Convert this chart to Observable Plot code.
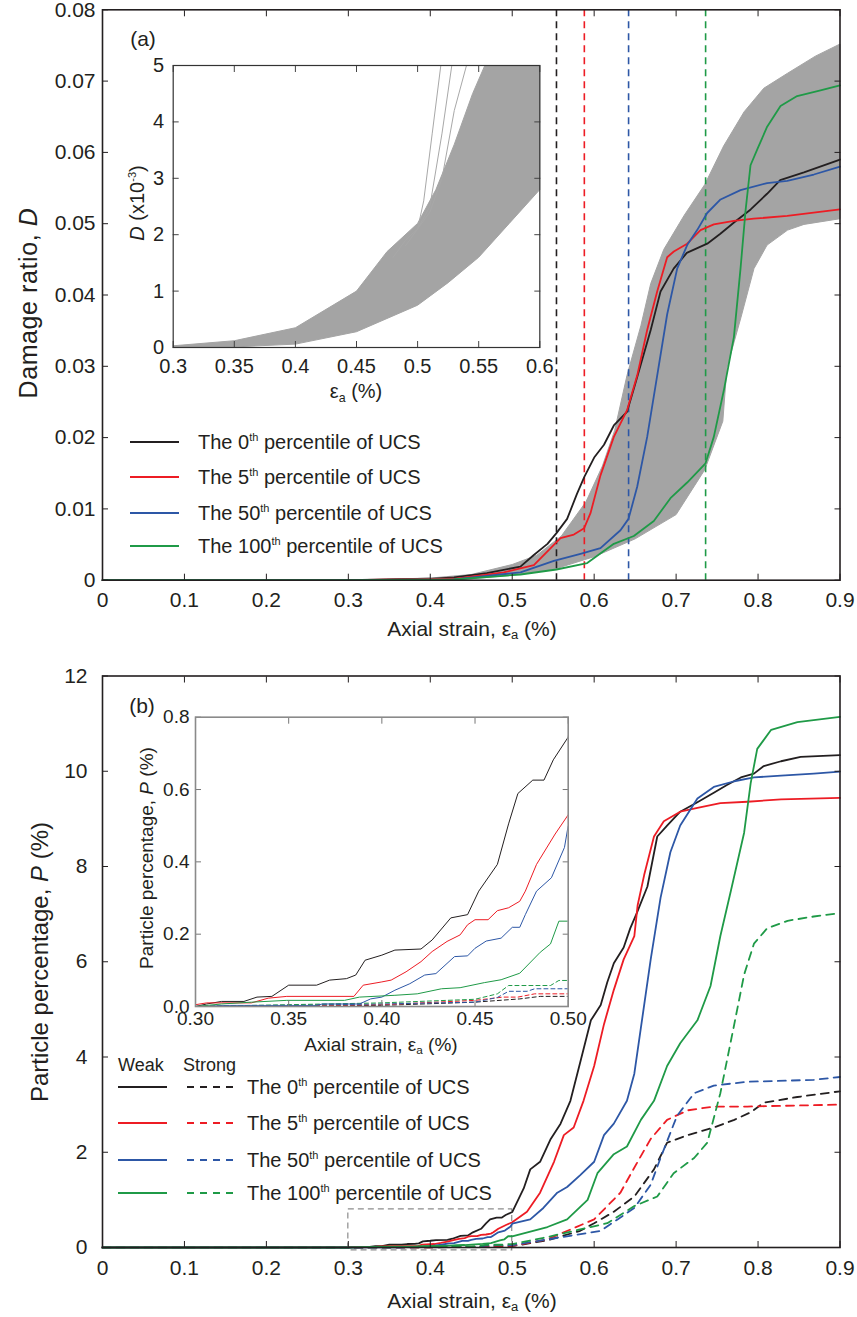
<!DOCTYPE html>
<html><head><meta charset="utf-8">
<script src="https://cdn.jsdelivr.net/npm/d3@7"></script>
<script src="https://cdn.jsdelivr.net/npm/@observablehq/plot@0.6"></script>
<style>
body{margin:0;background:#fff}
#wrap{position:relative;width:857px;height:1317px;font-family:"Liberation Sans",Arial,sans-serif;color:#231f20;overflow:hidden}
.abs{position:absolute;white-space:nowrap;line-height:1}
.c{transform:translate(-50%,-50%)}
.r{transform:translate(-50%,-50%) rotate(-90deg)}
.lv{transform:translateY(-50%)}
sub{font-size:0.62em;vertical-align:-0.3em;line-height:0}
sup{font-size:0.55em;vertical-align:0.7em;line-height:0}
</style></head>
<body><div id="wrap"></div>
<script>
// ---------------- Panel (a): damage ratio ----------------
const pctLabels = ["0", "5", "50", "100"];
const aStrainTicks = [0, 0.1, 0.2, 0.3, 0.4, 0.5, 0.6, 0.7, 0.8, 0.9];
const aDamageTicks = [0, 0.01, 0.02, 0.03, 0.04, 0.05, 0.06, 0.07, 0.08];

const aStrainP0 = [0, 0.3, 0.4, 0.429, 0.469, 0.51, 0.526, 0.543, 0.554, 0.567, 0.579, 0.588, 0.6, 0.612, 0.624, 0.64, 0.649, 0.657, 0.669, 0.681, 0.697, 0.713, 0.738, 0.754, 0.771, 0.791, 0.811, 0.827, 0.856, 0.9];
const aDamageP0 = [0, 0, 0.0002, 0.0004, 0.001, 0.0019, 0.0035, 0.0051, 0.0066, 0.0086, 0.0121, 0.0145, 0.0172, 0.019, 0.0217, 0.0236, 0.0271, 0.0303, 0.0351, 0.0405, 0.0437, 0.0459, 0.0472, 0.0486, 0.0502, 0.052, 0.0542, 0.0561, 0.0572, 0.059];
const aStrainP5 = [0, 0.3, 0.4288, 0.4898, 0.5264, 0.5427, 0.5589, 0.5752, 0.5878, 0.5955, 0.6077, 0.624, 0.6403, 0.6525, 0.6647, 0.6769, 0.6891, 0.6972, 0.7135, 0.7298, 0.746, 0.7705, 0.7948, 0.8356, 0.9];
const aDamageP5 = [0, 0, 0.0002, 0.0011, 0.0021, 0.004, 0.0059, 0.0064, 0.0073, 0.0094, 0.0147, 0.0201, 0.0239, 0.0287, 0.0351, 0.0405, 0.0453, 0.0461, 0.0472, 0.0491, 0.0499, 0.0504, 0.0507, 0.0511, 0.052];
const aStrainP50 = [0, 0.3, 0.4288, 0.5101, 0.5508, 0.5833, 0.6077, 0.6321, 0.6419, 0.6525, 0.6647, 0.6769, 0.6891, 0.7013, 0.7135, 0.7257, 0.7379, 0.7542, 0.7786, 0.8111, 0.8356, 0.8681, 0.9];
const aDamageP50 = [0, 0, 0.0001, 0.0011, 0.0027, 0.0037, 0.0045, 0.007, 0.0086, 0.0131, 0.0201, 0.0287, 0.0373, 0.0437, 0.047, 0.0491, 0.0515, 0.0534, 0.0547, 0.0557, 0.056, 0.0569, 0.058];
const aStrainP100 = [0, 0.3, 0.4288, 0.5101, 0.554, 0.5915, 0.624, 0.6484, 0.6728, 0.6931, 0.7135, 0.7359, 0.746, 0.7582, 0.7705, 0.7786, 0.7847, 0.7908, 0.7989, 0.8111, 0.8274, 0.8477, 0.8762, 0.9];
const aDamageP100 = [0, 0, 0.0001, 0.0008, 0.0015, 0.0024, 0.0051, 0.0062, 0.0083, 0.0115, 0.0137, 0.0164, 0.0201, 0.0266, 0.0341, 0.0437, 0.0518, 0.0582, 0.0604, 0.0636, 0.0665, 0.0679, 0.0687, 0.0694];

// envelope of the grey Monte-Carlo curves
const aBandUpperStrain = [0.3, 0.4, 0.45, 0.5, 0.53, 0.56, 0.59, 0.61, 0.625, 0.64, 0.657, 0.669, 0.685, 0.71, 0.735, 0.758, 0.783, 0.807, 0.836, 0.87, 0.9];
const aBandUpperDamage = [0, 0.0003, 0.0008, 0.0022, 0.0035, 0.0062, 0.011, 0.016, 0.021, 0.0287, 0.0357, 0.0416, 0.0464, 0.0512, 0.0555, 0.0609, 0.0657, 0.069, 0.0711, 0.0735, 0.0752];
const aBandLowerStrain = [0.3, 0.45, 0.5, 0.55, 0.6, 0.65, 0.7, 0.735, 0.757, 0.762, 0.779, 0.795, 0.811, 0.836, 0.856, 0.9];
const aBandLowerDamage = [0, 0.0002, 0.0007, 0.0015, 0.0033, 0.0058, 0.0092, 0.0155, 0.0223, 0.0298, 0.0368, 0.0437, 0.047, 0.0491, 0.0499, 0.0507];

const aPeakStrain = [0.554, 0.588, 0.642, 0.736];

// inset (a): D (x10^-3)
const insetAStrainTicks = [0.3, 0.35, 0.4, 0.45, 0.5, 0.55, 0.6];
const insetADamageTicks = [0, 1, 2, 3, 4, 5];
const insetAUpperStrain = [0.3, 0.35, 0.4, 0.45, 0.475, 0.5, 0.515, 0.53, 0.545, 0.555, 0.6];
const insetAUpperDamage = [0.03, 0.12, 0.35, 1.0, 1.7, 2.2, 2.8, 3.6, 4.5, 5, 5];
const insetALowerStrain = [0.3, 0.35, 0.4, 0.45, 0.5, 0.525, 0.55, 0.575, 0.6];
const insetALowerDamage = [0, 0.01, 0.06, 0.28, 0.75, 1.15, 1.6, 2.2, 2.8];
const insetAOutlier1Strain = [0.48, 0.49, 0.5, 0.505, 0.512, 0.519];
const insetAOutlier1Damage = [1.6, 1.9, 2.1, 2.6, 3.8, 5];
const insetAOutlier2Strain = [0.49, 0.5, 0.51, 0.52, 0.528];
const insetAOutlier2Damage = [1.8, 2.1, 2.5, 3.8, 5];
const insetAOutlier3Strain = [0.5, 0.51, 0.52, 0.53, 0.54];
const insetAOutlier3Damage = [2.1, 2.4, 3.0, 4.2, 5];

// ---------------- Panel (b): particle percentage ----------------
const bParticleTicks = [0, 2, 4, 6, 8, 10, 12];
const bWeakStrainP0 = [0, 0.2, 0.3, 0.306, 0.314, 0.326, 0.333, 0.341, 0.35, 0.365, 0.372, 0.381, 0.386, 0.391, 0.4, 0.407, 0.421, 0.427, 0.437, 0.446, 0.452, 0.462, 0.468, 0.473, 0.481, 0.487, 0.492, 0.5, 0.514, 0.522, 0.534, 0.547, 0.559, 0.571, 0.583, 0.596, 0.608, 0.616, 0.624, 0.636, 0.644, 0.652, 0.665, 0.677, 0.689, 0.705, 0.726, 0.746, 0.762, 0.779, 0.795, 0.807, 0.828, 0.852, 0.9];
const bWeakP0 = [0, 0, 0, 0.007, 0.014, 0.014, 0.026, 0.028, 0.059, 0.059, 0.073, 0.077, 0.087, 0.128, 0.142, 0.156, 0.159, 0.184, 0.245, 0.254, 0.319, 0.393, 0.505, 0.589, 0.626, 0.626, 0.682, 0.745, 1.24, 1.64, 1.8, 2.28, 2.6, 3.08, 3.89, 4.77, 5.09, 5.57, 5.97, 6.3, 6.7, 7.02, 7.58, 8.63, 8.86, 9.15, 9.35, 9.55, 9.71, 9.87, 9.95, 10.11, 10.21, 10.3, 10.34];
const bWeakStrainP5 = [0, 0.2, 0.3, 0.306, 0.33, 0.339, 0.349, 0.385, 0.39, 0.4, 0.405, 0.413, 0.421, 0.427, 0.435, 0.442, 0.446, 0.45, 0.457, 0.462, 0.468, 0.474, 0.477, 0.483, 0.493, 0.5, 0.518, 0.534, 0.551, 0.563, 0.575, 0.587, 0.6, 0.612, 0.624, 0.636, 0.649, 0.653, 0.661, 0.673, 0.685, 0.705, 0.726, 0.754, 0.787, 0.828, 0.9];
const bWeakP5 = [0, 0, 0.005, 0.01, 0.01, 0.023, 0.028, 0.028, 0.059, 0.068, 0.073, 0.096, 0.124, 0.152, 0.18, 0.198, 0.226, 0.24, 0.24, 0.265, 0.273, 0.291, 0.319, 0.393, 0.477, 0.53, 0.75, 1.15, 1.8, 2.36, 2.52, 3.08, 3.81, 4.69, 5.41, 6.05, 6.54, 7.18, 7.82, 8.63, 8.95, 9.15, 9.23, 9.33, 9.36, 9.41, 9.44];
const bWeakStrainP50 = [0, 0.2, 0.3, 0.318, 0.365, 0.368, 0.388, 0.394, 0.4, 0.407, 0.415, 0.423, 0.429, 0.439, 0.446, 0.45, 0.456, 0.464, 0.47, 0.474, 0.477, 0.483, 0.491, 0.498, 0.5, 0.522, 0.538, 0.555, 0.567, 0.583, 0.6, 0.612, 0.624, 0.64, 0.649, 0.657, 0.669, 0.681, 0.693, 0.705, 0.726, 0.746, 0.771, 0.795, 0.828, 0.868, 0.9];
const bWeakP50 = [0, 0, 0, 0.003, 0.003, 0.007, 0.007, 0.021, 0.026, 0.045, 0.063, 0.087, 0.091, 0.138, 0.14, 0.161, 0.181, 0.189, 0.219, 0.219, 0.254, 0.319, 0.356, 0.44, 0.5, 0.59, 0.83, 1.15, 1.27, 1.52, 1.8, 2.36, 2.6, 3.08, 3.65, 4.61, 6.05, 7.34, 8.3, 8.86, 9.43, 9.67, 9.79, 9.87, 9.91, 9.95, 9.99];
const bWeakStrainP100 = [0, 0.2, 0.3, 0.314, 0.33, 0.349, 0.38, 0.388, 0.407, 0.419, 0.432, 0.442, 0.455, 0.464, 0.474, 0.485, 0.4905, 0.495, 0.5, 0.543, 0.567, 0.592, 0.604, 0.624, 0.64, 0.657, 0.673, 0.689, 0.705, 0.726, 0.742, 0.754, 0.767, 0.783, 0.791, 0.799, 0.816, 0.848, 0.9];
const bWeakP100 = [0, 0, 0, 0.007, 0.012, 0.017, 0.017, 0.026, 0.031, 0.035, 0.049, 0.052, 0.066, 0.074, 0.092, 0.15, 0.173, 0.236, 0.236, 0.43, 0.59, 1.0, 1.56, 1.96, 2.12, 2.68, 3.08, 3.81, 4.29, 4.77, 5.49, 6.54, 7.5, 8.71, 9.75, 10.47, 10.87, 11.03, 11.14];

const bStrongStrainP0 = [0, 0.3, 0.4, 0.45, 0.474, 0.485, 0.5, 0.543, 0.583, 0.6, 0.624, 0.649, 0.673, 0.689, 0.714, 0.746, 0.771, 0.791, 0.807, 0.848, 0.9];
const bStrongP0 = [0, 0, 0.003, 0.012, 0.021, 0.028, 0.028, 0.15, 0.35, 0.51, 0.75, 1.07, 1.64, 2.2, 2.36, 2.52, 2.68, 2.84, 3.04, 3.16, 3.28];
const bStrongStrainP5 = [0, 0.3, 0.4, 0.45, 0.465, 0.473, 0.482, 0.5, 0.543, 0.6, 0.632, 0.653, 0.669, 0.689, 0.714, 0.746, 0.787, 0.9];
const bStrongP5 = [0, 0, 0.005, 0.017, 0.026, 0.026, 0.035, 0.035, 0.17, 0.59, 1.15, 1.8, 2.28, 2.68, 2.88, 2.96, 2.96, 3.0];
const bStrongStrainP50 = [0, 0.3, 0.4, 0.45, 0.462, 0.468, 0.478, 0.482, 0.5, 0.543, 0.608, 0.649, 0.669, 0.681, 0.701, 0.722, 0.746, 0.787, 0.868, 0.9];
const bStrongP50 = [0, 0, 0.007, 0.012, 0.025, 0.042, 0.042, 0.049, 0.049, 0.17, 0.35, 0.83, 1.32, 1.88, 2.76, 3.24, 3.4, 3.48, 3.52, 3.58];
const bStrongStrainP100 = [0, 0.3, 0.4, 0.45, 0.462, 0.468, 0.4905, 0.495, 0.5, 0.543, 0.616, 0.649, 0.677, 0.697, 0.722, 0.738, 0.754, 0.771, 0.783, 0.795, 0.811, 0.836, 0.868, 0.9];
const bStrongP100 = [0, 0, 0.01, 0.02, 0.035, 0.058, 0.058, 0.072, 0.072, 0.22, 0.51, 0.87, 1.07, 1.56, 1.88, 2.2, 3.24, 4.69, 5.73, 6.38, 6.7, 6.86, 6.95, 7.02];

const insetBStrainTicks = [0.3, 0.35, 0.4, 0.45, 0.5];
const insetBParticleTicks = [0, 0.2, 0.4, 0.6, 0.8];
const bZoomStrain = [0.3, 0.5];
const bZoomParticle = [-0.06, 0.8];

// ---------------- helpers ----------------
const colors = ["#231f20", "#ed1c24", "#2d57a6", "#1f9a47"];
const FONT = "Liberation Sans, Arial, sans-serif";
const pts = (xs, ys, extra = {}) => xs.map((x, i) => ({x, y: ys[i], ...extra}));
const fmtA = d => d === 0 ? "0" : String(+d.toFixed(2));
const blank = () => "";

const aSeries = [
  pts(aStrainP0, aDamageP0), pts(aStrainP5, aDamageP5),
  pts(aStrainP50, aDamageP50), pts(aStrainP100, aDamageP100)
];
const aBand = pts(aBandUpperStrain, aBandUpperDamage).concat(pts(aBandLowerStrain, aBandLowerDamage).reverse());
const insetABand = pts(insetAUpperStrain, insetAUpperDamage).concat(pts(insetALowerStrain, insetALowerDamage).reverse());
const insetAOutliers = [
  pts(insetAOutlier1Strain, insetAOutlier1Damage),
  pts(insetAOutlier2Strain, insetAOutlier2Damage),
  pts(insetAOutlier3Strain, insetAOutlier3Damage)
];
const bWeak = [
  pts(bWeakStrainP0, bWeakP0), pts(bWeakStrainP5, bWeakP5),
  pts(bWeakStrainP50, bWeakP50), pts(bWeakStrainP100, bWeakP100)
];
const bStrong = [
  pts(bStrongStrainP0, bStrongP0), pts(bStrongStrainP5, bStrongP5),
  pts(bStrongStrainP50, bStrongP50), pts(bStrongStrainP100, bStrongP100)
];

const wrap = document.getElementById("wrap");
function place(node, left, top) {
  const d = document.createElement("div");
  d.className = "abs";
  d.style.left = left + "px"; d.style.top = top + "px";
  d.appendChild(node); wrap.appendChild(d); return d;
}
function frameAxes(xt, yt, o) {
  const ts = -6;
  return [
    Plot.axisX(xt, {anchor: "bottom", tickSize: ts, tickPadding: o.xPad, tickFormat: o.xFmt, label: null, stroke: o.tickColor}),
    Plot.axisX(xt, {anchor: "top", tickSize: ts, tickFormat: blank, label: null, stroke: o.tickColor}),
    Plot.axisY(yt, {anchor: "left", tickSize: ts, tickPadding: o.yPad, tickFormat: o.yFmt, label: null, stroke: o.tickColor}),
    Plot.axisY(yt, {anchor: "right", tickSize: ts, tickFormat: blank, label: null, stroke: o.tickColor})
  ];
}

// ---------------- main (a) ----------------
const plotA = Plot.plot({
  width: 857, height: 660,
  marginLeft: 102, marginRight: 17.5, marginTop: 9.3, marginBottom: 80.3,
  x: {domain: [0, 0.9]}, y: {domain: [0, 0.08]},
  style: {fontSize: "21px", fontFamily: FONT, color: "#231f20", background: "transparent", overflow: "visible"},
  marks: [
    Plot.line(aBand, {x: "x", y: "y", fill: "#a4a4a4", stroke: "#a4a4a4", strokeWidth: 1}),
    Plot.ruleX(aPeakStrain, {x: d => d, stroke: (d, i) => colors[i], strokeWidth: 1.6, strokeDasharray: "7,5"}),
    ...aSeries.map((s, i) => Plot.line(s, {x: "x", y: "y", stroke: colors[i], strokeWidth: 1.8})),
    ...frameAxes(aStrainTicks, aDamageTicks, {xPad: 18, yPad: 13, xFmt: fmtA, yFmt: fmtA, tickColor: "#231f20"}),
    Plot.frame({stroke: "#231f20", strokeWidth: 1.6})
  ]
});
place(plotA, 0, 0);

// ---------------- inset (a) ----------------
const insetA = Plot.plot({
  width: 460, height: 340,
  marginLeft: 72.7, marginRight: 20.7, marginTop: 25, marginBottom: 33,
  x: {domain: [0.3, 0.6]}, y: {domain: [0, 5]},
  style: {fontSize: "20px", fontFamily: FONT, color: "#231f20", background: "transparent", overflow: "visible"},
  marks: [
    Plot.frame({fill: "white", stroke: null}),
    Plot.line(insetABand, {x: "x", y: "y", fill: "#a4a4a4", stroke: "#a4a4a4", strokeWidth: 1}),
    ...insetAOutliers.map(s => Plot.line(s, {x: "x", y: "y", stroke: "#a8a8a8", strokeWidth: 1})),
    ...frameAxes(insetAStrainTicks, insetADamageTicks, {xPad: 17, yPad: 15, xFmt: d => String(+d.toFixed(2)), yFmt: d => String(d), tickColor: "#444"}),
    Plot.frame({stroke: "#333", strokeWidth: 1.2})
  ]
});
place(insetA, 100, 40);

// ---------------- main (b) ----------------
const plotB = Plot.plot({
  width: 857, height: 657,
  marginLeft: 102, marginRight: 17.5, marginTop: 15.5, marginBottom: 70,
  x: {domain: [0, 0.9]}, y: {domain: [0, 12]},
  style: {fontSize: "21px", fontFamily: FONT, color: "#231f20", background: "transparent", overflow: "visible"},
  marks: [
    Plot.rect([{x1: bZoomStrain[0], x2: bZoomStrain[1], y1: bZoomParticle[0], y2: bZoomParticle[1]}],
      {x1: "x1", x2: "x2", y1: "y1", y2: "y2", fill: "none", stroke: "#8c8c8c", strokeWidth: 1.2, strokeDasharray: "6,4"}),
    ...bStrong.map((s, i) => Plot.line(s, {x: "x", y: "y", stroke: colors[i], strokeWidth: 1.8, strokeDasharray: "8,6"})),
    ...bWeak.map((s, i) => Plot.line(s, {x: "x", y: "y", stroke: colors[i], strokeWidth: 1.8})),
    ...frameAxes(aStrainTicks, bParticleTicks, {xPad: 19, yPad: 21, xFmt: fmtA, yFmt: d => String(d), tickColor: "#231f20"}),
    Plot.frame({stroke: "#231f20", strokeWidth: 1.6})
  ]
});
place(plotB, 0, 660);

// ---------------- inset (b) ----------------
const insetB = Plot.plot({
  width: 490, height: 340,
  marginLeft: 95, marginRight: 22.3, marginTop: 26.7, marginBottom: 24,
  x: {domain: [0.3, 0.5]}, y: {domain: [0, 0.8]},
  style: {fontSize: "19px", fontFamily: FONT, color: "#231f20", background: "transparent", overflow: "visible"},
  marks: [
    Plot.frame({fill: "white", stroke: null}),
    ...bStrong.map((s, i) => Plot.line(s, {x: "x", y: "y", stroke: colors[i], strokeWidth: 1, strokeDasharray: "4,3", clip: true})),
    ...bWeak.map((s, i) => Plot.line(s, {x: "x", y: "y", stroke: colors[i], strokeWidth: 1, clip: true})),
    ...frameAxes(insetBStrainTicks, insetBParticleTicks, {xPad: 11, yPad: 12, xFmt: d => d.toFixed(2), yFmt: d => d.toFixed(1), tickColor: "#777"}),
    Plot.frame({stroke: "#8a8a8a", strokeWidth: 1.6})
  ]
});
place(insetB, 100, 690);

// ---------------- text labels ----------------
function label(html, x, y, cls, size, extra = "") {
  const d = document.createElement("div");
  d.className = "abs " + cls;
  d.style.cssText += `left:${x}px;top:${y}px;font-size:${size}px;${extra}`;
  d.innerHTML = html;
  wrap.appendChild(d);
  return d;
}
label("(a)", 143, 38, "c", 21);
label("(b)", 142, 705, "c", 21);
label("Axial strain, ε<sub>a</sub> (%)", 472, 628, "c", 21);
label("Axial strain, ε<sub>a</sub> (%)", 472, 1300, "c", 21);
label("Damage ratio, <i>D</i>", 28, 303, "r", 25, "letter-spacing:0.6px");
label("Particle percentage, <i>P</i> (%)", 40, 962, "r", 24);
label("ε<sub>a</sub> (%)", 356, 391, "c", 20);
label("<i>D</i> (x10<sup>-3</sup>)", 137, 203, "r", 20);
label("Axial strain, ε<sub>a</sub> (%)", 381, 1044, "c", 19);
label("Particle percentage, <i>P</i> (%)", 146, 858, "r", 19);

function swatch(x1, x2, y, color, dashed) {
  const ns = "http://www.w3.org/2000/svg";
  const s = document.createElementNS(ns, "svg");
  s.setAttribute("width", x2 - x1); s.setAttribute("height", 6);
  s.style.position = "absolute"; s.style.left = x1 + "px"; s.style.top = (y - 3) + "px";
  const l = document.createElementNS(ns, "line");
  l.setAttribute("x1", 0); l.setAttribute("x2", x2 - x1); l.setAttribute("y1", 3); l.setAttribute("y2", 3);
  l.setAttribute("stroke", color); l.setAttribute("stroke-width", 1.8);
  if (dashed) l.setAttribute("stroke-dasharray", "7,6");
  s.appendChild(l); wrap.appendChild(s);
}
const legA = [441.7, 477.3, 513.3, 545.7];
pctLabels.forEach((p, i) => {
  swatch(130, 179, legA[i], colors[i], false);
  label(`The ${p}<sup>th</sup> percentile of UCS`, 198, legA[i], "lv", 20);
});
label("Weak", 118, 1065, "lv", 18);
label("Strong", 183, 1065, "lv", 18);
const legB = [1087, 1123, 1160, 1193];
pctLabels.forEach((p, i) => {
  swatch(118, 167, legB[i], colors[i], false);
  swatch(187, 236, legB[i], colors[i], true);
  label(`The ${p}<sup>th</sup> percentile of UCS`, 247, legB[i], "lv", 20);
});
</script></body></html>
